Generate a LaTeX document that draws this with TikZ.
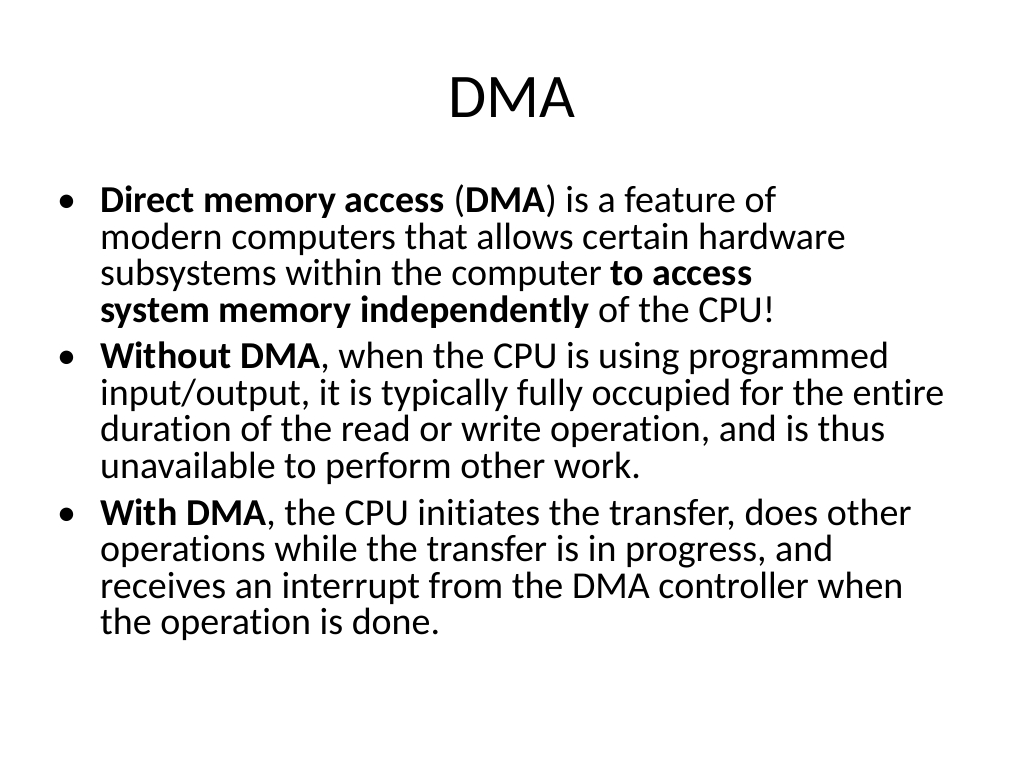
\documentclass[tikz,border=0pt]{standalone}
\usepackage{fontspec}
\setmainfont[Ligatures=NoCommon]{Carlito}
\begin{document}
\begin{tikzpicture}[x=1pt,y=-1pt,
  ln/.style={anchor=base west,inner sep=0pt,font=\fontsize{38}{40}\selectfont},
  bl/.style={anchor=base west,inner sep=0pt,font=\fontsize{38}{40}\selectfont}]
\useasboundingbox (0,0) rectangle (1024,768);
\node[anchor=base,inner sep=0pt,font=\fontsize{62}{70}\selectfont] (title) at (512,117) {DMA};
\node[bl] (b1) at (57,212) {•};
\node[ln] (l1) at (100,212) {\textbf{Direct memory access} (\textbf{DMA}) is a feature of};
\node[ln] (l2) at (100,249) {modern computers that allows certain hardware};
\node[ln] (l3) at (100,285) {subsystems within the computer \textbf{to access}};
\node[ln] (l4) at (100,322) {\textbf{system memory independently} of the CPU!};
\node[bl] (b2) at (57,368) {•};
\node[ln] (l5) at (100,368) {\textbf{Without DMA}, when the CPU is using programmed};
\node[ln] (l6) at (100,405) {input/output, it is typically fully occupied for the entire};
\node[ln] (l7) at (100,441) {duration of the read or write operation, and is thus};
\node[ln] (l8) at (100,478) {unavailable to perform other work.};
\node[bl] (b3) at (57,525) {•};
\node[ln] (l9) at (100,525) {\textbf{With DMA}, the CPU initiates the transfer, does other};
\node[ln] (l10) at (100,561) {operations while the transfer is in progress, and};
\node[ln] (l11) at (100,598) {receives an interrupt from the DMA controller when};
\node[ln] (l12) at (100,634) {the operation is done.};
\end{tikzpicture}
\end{document}
